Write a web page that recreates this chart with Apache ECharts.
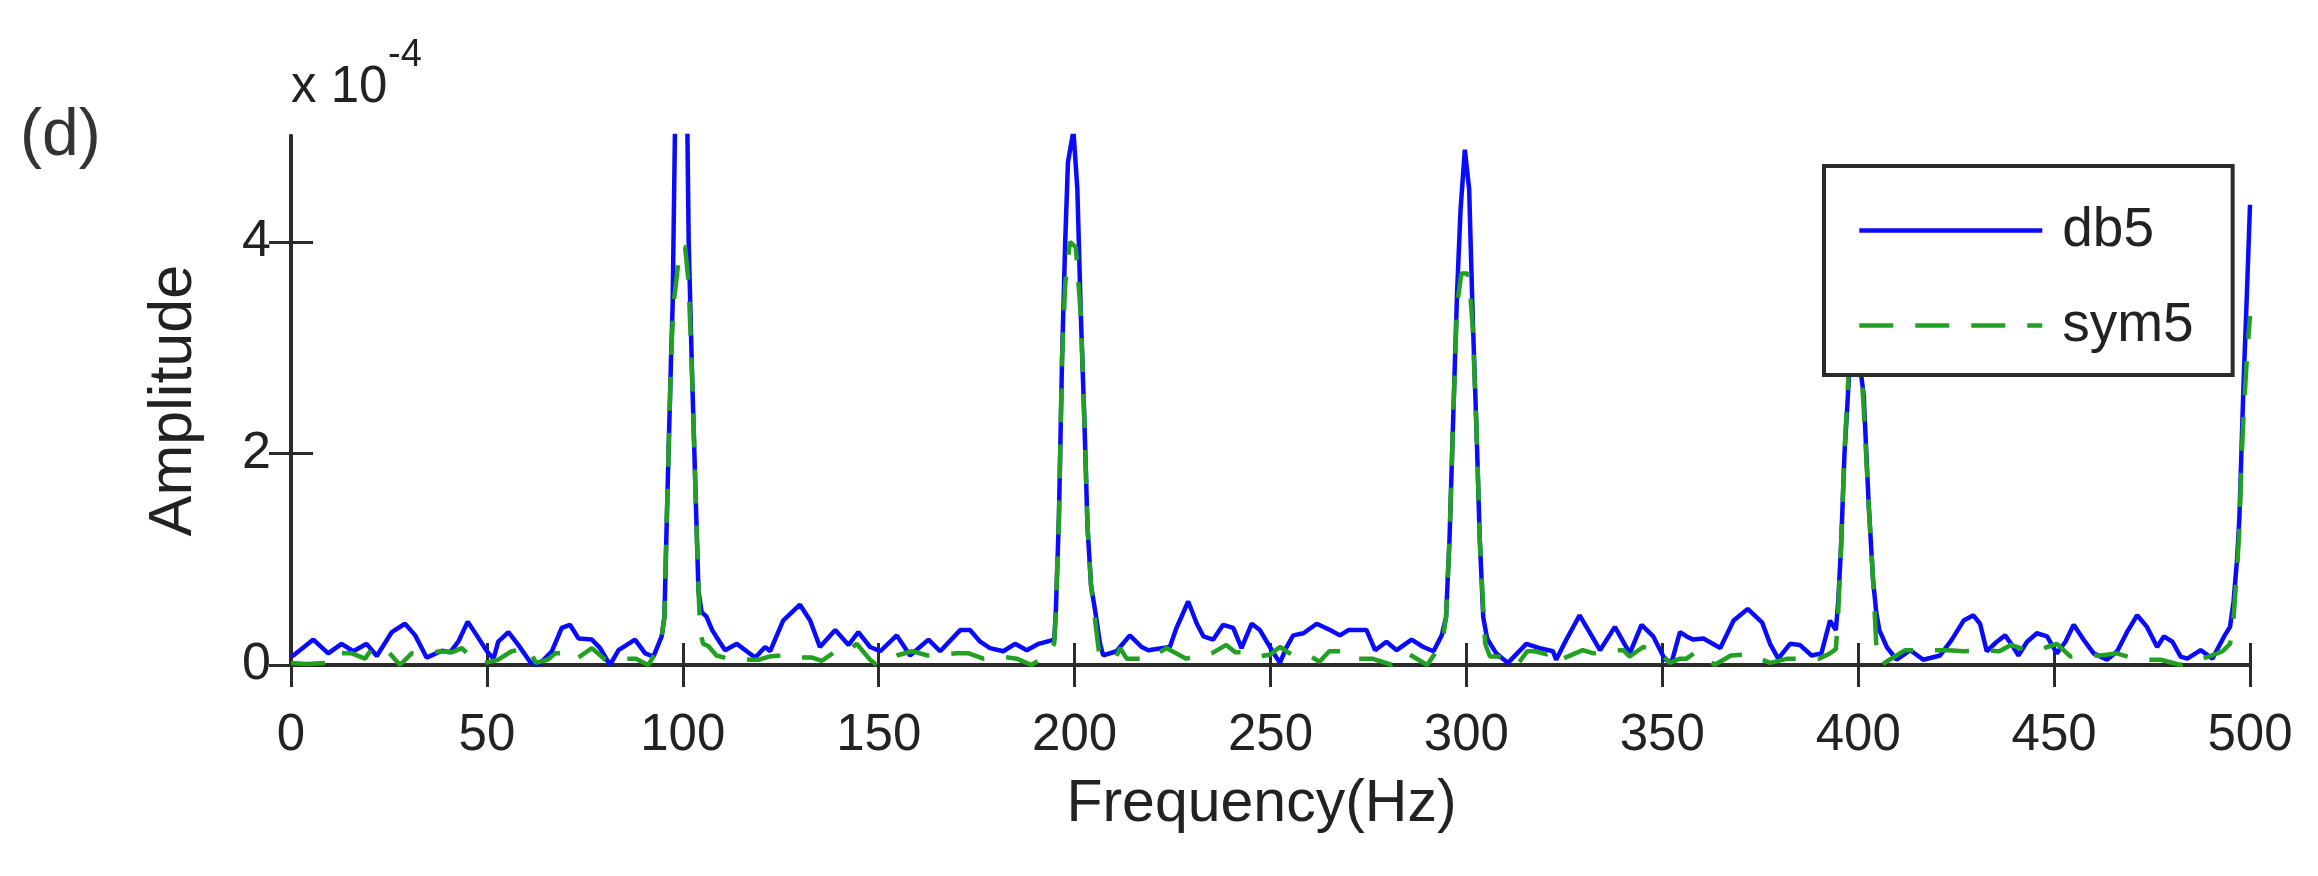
<!DOCTYPE html>
<html>
<head>
<meta charset="utf-8">
<script src="https://cdn.jsdelivr.net/npm/echarts@6/dist/echarts.min.js"></script>
<style>
html,body{margin:0;padding:0;background:#fff;}
#chart{width:2318px;height:876px;}
</style>
</head>
<body>
<div id="chart"></div>
<script>
// Amplitudes in units of 1e-4
var db5Freq = [0,0.6,5.7,9.5,12.9,15.9,19.3,21.9,25.7,29.1,31.7,34.6,38.5,40.6,42.7,45.1,47.4,50.0,51.7,52.9,55.5,58.0,61.0,63.1,66.6,69.1,71.2,73.4,76.8,78.9,81.4,83.6,87.8,90.4,92.5,94.6,95.3,
  96.0,97.0,97.4,98.2,101.0,101.5,102.4,104.0,104.8,106.0,107.5,108.5,110.8,113.8,116.3,118.5,121.0,122.3,125.6,129.9,132.5,135.0,138.9,142.3,144.8,147.8,150.4,154.6,158.0,162.7,165.7,170.8,173.3,175.9,178.4,181.8,184.8,187.8,190.8,194.8,
  195.2,196.0,196.8,197.6,198.3,199.7,200.7,201.6,202.5,203.3,204.2,205.3,206.5,207.3,210.7,214.1,217.1,218.8,222.6,224.3,226.0,229.0,231.2,232.9,235.4,237.9,240.5,242.6,245.2,247.3,250.5,252.4,254.1,255.8,258.4,261.8,265.2,267.7,269.9,274.5,276.7,279.6,282.2,286.0,289.0,291.6,293.7,294.8,
  295.7,296.6,297.6,298.5,299.6,300.7,301.6,302.6,303.4,304.3,305.3,307.6,310.6,315.3,318.7,322.1,322.9,325.5,328.9,332.4,334.1,337.9,341.7,344.7,347.7,350.7,352.4,354.5,356.2,357.9,360.5,364.8,368.2,371.8,375.5,377.5,379.6,382.6,385.1,388.1,390.6,392.8,394.3,
  394.9,395.6,396.5,397.3,397.9,398.8,399.6,400.4,401.4,402.7,403.8,404.6,405.4,407.3,409.8,413.3,416.6,420.9,423.9,426.9,429.4,431.1,432.8,435.4,437.5,439.6,440.9,443.1,445.6,448.2,450.7,452.9,455.0,457.5,460.1,463.5,466.1,468.6,471.2,473.7,476.3,478.0,480.2,482.3,484.0,487.4,490.4,493.4,494.9,495.8,496.7,497.3,497.8,498.3,499.2,500];
var db5Amp = [0.08,0.09,0.24,0.11,0.20,0.13,0.20,0.085,0.31,0.39,0.28,0.07,0.135,0.12,0.22,0.41,0.28,0.13,0.06,0.22,0.31,0.19,0.03,0.0,0.13,0.35,0.38,0.25,0.24,0.16,0.0,0.14,0.24,0.11,0.08,0.27,0.45,
  1.5,2.9,3.4,5.6,5.6,4.0,2.7,0.7,0.5,0.46,0.33,0.27,0.14,0.20,0.13,0.07,0.17,0.13,0.42,0.57,0.42,0.17,0.33,0.19,0.31,0.17,0.13,0.28,0.09,0.24,0.13,0.33,0.33,0.22,0.16,0.13,0.20,0.14,0.20,0.24,
  0.5,1.4,2.9,4.0,4.75,5.05,4.5,3.3,2.3,1.3,0.75,0.5,0.2,0.09,0.13,0.28,0.17,0.14,0.16,0.17,0.35,0.60,0.39,0.27,0.24,0.38,0.35,0.16,0.39,0.33,0.13,0.02,0.17,0.28,0.30,0.39,0.33,0.28,0.33,0.33,0.14,0.22,0.14,0.24,0.17,0.13,0.28,0.45,
  1.2,2.3,3.5,4.3,4.87,4.5,3.3,2.2,1.2,0.45,0.25,0.11,0.02,0.20,0.16,0.13,0.05,0.24,0.47,0.25,0.14,0.36,0.11,0.38,0.27,0.05,0.03,0.31,0.27,0.24,0.25,0.16,0.42,0.53,0.40,0.20,0.06,0.20,0.19,0.09,0.11,0.42,0.33,
  0.6,1.1,2.0,2.5,2.9,4.0,4.0,2.85,2.55,1.5,0.8,0.5,0.33,0.17,0.05,0.14,0.05,0.09,0.24,0.42,0.47,0.39,0.13,0.22,0.28,0.17,0.09,0.22,0.30,0.27,0.11,0.22,0.38,0.24,0.11,0.05,0.13,0.31,0.47,0.36,0.17,0.27,0.22,0.08,0.06,0.14,0.06,0.27,0.36,0.6,1.0,1.4,2.0,2.6,3.5,4.35];

var sym5Freq = [0,4.0,9.5,11.2,15.5,18.9,20.6,24.0,27.8,30.8,34.0,38.0,41.0,43.6,46.6,49.5,52.9,56.3,60.6,62.5,65.5,67.5,71.0,72.5,76.8,80.2,83.6,88.0,91.2,92.5,94.6,95.3,
  96.0,97.0,97.6,99.3,100.6,101.5,102.4,104.0,104.5,105.2,106.5,108.6,111.5,114.0,117.0,119.5,122.0,124.7,127.0,130.0,133.0,135.5,139.0,142.0,144.4,147.8,149.5,154.6,158.5,162.5,166.0,170.0,173.0,176.7,181.0,185.2,189.0,192.8,194.8,
  195.2,196.0,196.8,197.6,198.8,200.3,201.0,201.6,202.5,203.3,204.2,205.3,206.3,208.5,210.5,211.6,213.3,216.0,219.0,223.4,228.5,232.0,235.0,238.7,241.0,244.0,247.0,250.0,252.4,255.8,260.0,262.5,265.0,268.0,270.0,276.0,281.0,285.0,290.0,292.5,294.2,294.8,
  295.7,296.6,297.6,298.7,300.3,301.0,301.6,302.6,303.4,304.2,304.8,306.0,308.0,310.0,313.0,315.5,317.5,320.5,322.5,324.0,329.7,332.4,337.5,340.0,341.7,345.1,349.0,351.9,354.5,356.2,358.0,360.5,363.3,367.5,372.4,375.5,377.5,382.0,386.0,390.0,392.8,394.3,
  394.9,395.6,396.5,397.3,398.3,399.3,400.2,401.3,402.7,403.8,404.6,406.0,408.0,412.0,417.0,423.0,427.0,432.0,436.0,439.0,443.0,446.0,448.2,450.7,454.2,458.0,461.8,466.0,470.4,474.0,477.2,482.3,485.0,489.5,493.0,494.9,495.8,496.7,497.3,497.8,498.4,499.2,500];
var sym5Amp = [0.02,0.01,0.02,0.11,0.11,0.06,0.15,0.16,0.0,0.11,0.10,0.13,0.12,0.16,0.05,0.02,0.05,0.13,0.16,0.02,0.05,0.11,0.11,0.05,0.16,0.05,0.06,0.06,0.0,0.08,0.27,0.45,
  1.5,2.9,3.4,3.95,3.95,3.6,2.7,0.7,0.3,0.2,0.18,0.09,0.06,0.07,0.05,0.05,0.08,0.09,0.10,0.07,0.07,0.04,0.13,0.13,0.20,0.05,0.0,0.09,0.13,0.09,0.10,0.11,0.11,0.06,0.08,0.06,0.0,0.09,0.20,
  0.5,1.4,2.9,3.6,4.0,3.95,3.6,3.3,2.3,1.3,0.75,0.4,0.1,0.07,0.07,0.16,0.06,0.06,0.06,0.16,0.06,0.09,0.11,0.19,0.12,0.12,0.08,0.10,0.17,0.09,0.09,0.03,0.13,0.13,0.06,0.06,0.0,0.11,0.0,0.14,0.30,0.45,
  1.2,2.3,3.4,3.7,3.7,3.5,3.2,2.2,1.2,0.6,0.2,0.08,0.08,0.06,0.0,0.13,0.13,0.10,0.13,0.05,0.14,0.11,0.14,0.14,0.08,0.17,0.14,0.02,0.06,0.06,0.11,0.11,0.0,0.09,0.10,0.05,0.02,0.06,0.06,0.06,0.11,0.15,
  0.5,1.1,2.0,2.6,3.2,3.4,3.1,2.5,1.5,0.8,0.2,0.0,0.05,0.14,0.14,0.14,0.13,0.14,0.13,0.19,0.14,0.14,0.17,0.20,0.08,0.09,0.09,0.11,0.06,0.05,0.05,0.0,0.03,0.08,0.13,0.20,0.45,0.9,1.3,1.9,2.4,2.9,3.3];

var seriesNames = ['db5', 'sym5'];
var xTickInterval = 50;
var yTickInterval = 2;
var yTickValues = [0, 2, 4];
var xLabel = 'Frequency(Hz)';
var yLabel = 'Amplitude';

function pairs(xs, ys) { return xs.map(function (x, i) { return [x, ys[i]]; }); }

var FONT = '"Liberation Sans", Arial, Helvetica, sans-serif';
var TXT = '#222222';
var AX = '#2b2b2b';
var BLUE = '#0a0aff';
var GREEN = '#22a022';

var chart = echarts.init(document.getElementById('chart'), null, {renderer: 'canvas'});

function tickStyle(customValues) {
  var t = {show: true, inside: true, length: 22, lineStyle: {color: AX, width: 3}};
  if (customValues) t.customValues = customValues;
  return t;
}
var axisLineStyle = {show: true, lineStyle: {color: AX, width: 4}};

chart.setOption({
  animation: false,
  backgroundColor: '#ffffff',
  grid: {left: 291, right: 68, top: 136, bottom: 211, containLabel: false},
  xAxis: [
    {
      type: 'value', min: 0, max: 500, interval: xTickInterval, position: 'bottom',
      axisLine: axisLineStyle, axisTick: tickStyle(), splitLine: {show: false},
      axisLabel: {show: true, fontSize: 51, color: TXT, fontFamily: FONT, margin: 45},
      name: xLabel, nameLocation: 'middle', nameGap: 110,
      nameTextStyle: {fontSize: 59, color: TXT, fontFamily: FONT, padding: [0, 18, 0, 0]}
    },
    {
      type: 'value', min: 0, max: 500, interval: xTickInterval, position: 'top',
      axisLine: axisLineStyle, axisTick: tickStyle(), splitLine: {show: false},
      axisLabel: {show: false}
    }
  ],
  yAxis: [
    {
      type: 'value', min: 0, max: 5, interval: yTickInterval, position: 'left',
      axisLine: axisLineStyle, axisTick: tickStyle(yTickValues), splitLine: {show: false},
      axisLabel: {show: true, fontSize: 52, color: TXT, fontFamily: FONT, margin: 20, customValues: yTickValues},
      name: yLabel, nameLocation: 'middle', nameGap: 86,
      nameTextStyle: {fontSize: 61, color: TXT, fontFamily: FONT}
    },
    {
      type: 'value', min: 0, max: 5, interval: yTickInterval, position: 'right',
      axisLine: axisLineStyle, axisTick: tickStyle(yTickValues), splitLine: {show: false},
      axisLabel: {show: false}
    }
  ],
  legend: {
    orient: 'vertical', left: 1824, top: 166,
    backgroundColor: '#ffffff', borderColor: AX, borderWidth: 4,
    padding: [37, 39, 22, 33],
    itemWidth: 183, itemHeight: 20, itemGap: 40,
    itemStyle: {opacity: 0},
    lineStyle: {width: 4.5},
    textStyle: {fontSize: 55, color: TXT, fontFamily: FONT, padding: [0, 0, 0, 15]},
    data: seriesNames,
    z: 10
  },
  graphic: [
    {type: 'text', left: 20, top: 104, style: {text: '(d)', font: '66px ' + FONT, fill: '#333333'}},
    {type: 'text', left: 291, top: 62, style: {text: 'x 10', font: '51px ' + FONT, fill: TXT}},
    {type: 'text', left: 388, top: 37, style: {text: '-4', font: '38px ' + FONT, fill: TXT}}
  ],
  series: [
    {
      name: seriesNames[0], type: 'line', xAxisIndex: 0, yAxisIndex: 0,
      data: pairs(db5Freq, db5Amp), symbol: 'none', showSymbol: false, clip: true,
      lineStyle: {color: BLUE, width: 4.5, type: 'solid'},
      itemStyle: {color: BLUE}, z: 2
    },
    {
      name: seriesNames[1], type: 'line', xAxisIndex: 0, yAxisIndex: 0,
      data: pairs(sym5Freq, sym5Amp), symbol: 'none', showSymbol: false, clip: true,
      lineStyle: {color: GREEN, width: 4.5, type: [34, 22]},
      itemStyle: {color: GREEN}, z: 3
    }
  ]
});
</script>
</body>
</html>
